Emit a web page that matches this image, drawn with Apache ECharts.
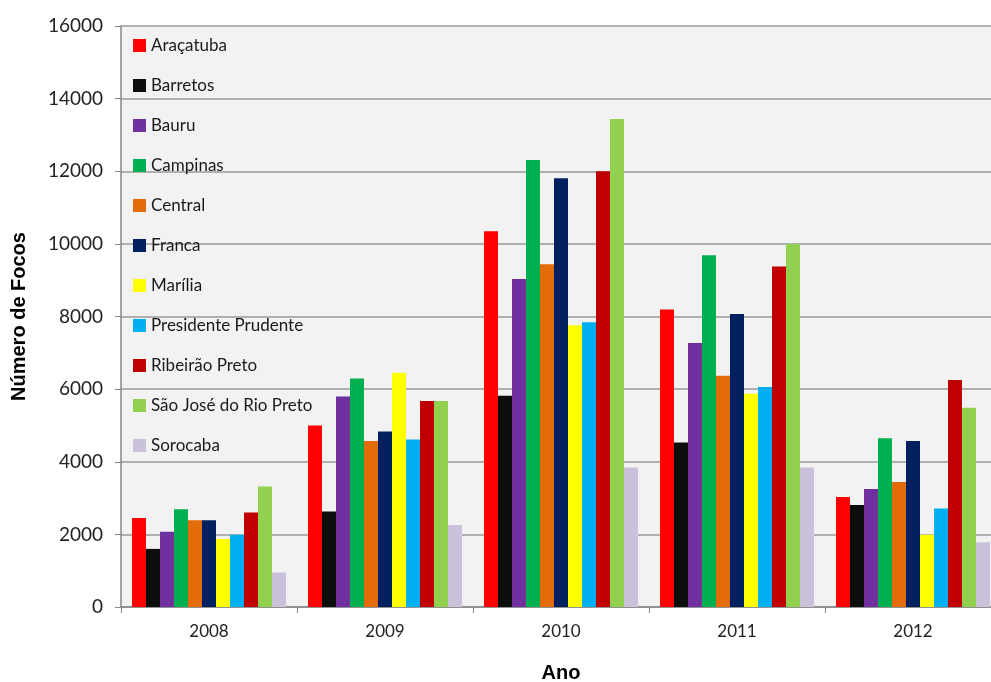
<!DOCTYPE html>
<html>
<head>
<meta charset="utf-8">
<script src="https://cdn.jsdelivr.net/npm/echarts@6/dist/echarts.min.js"></script>
<style>
  html, body { margin: 0; padding: 0; background: #fff; }
  #chart { width: 991px; height: 682px; }
</style>
</head>
<body>
<div id="chart"></div>
<script>
var myChart = echarts.init(document.getElementById('chart'));

var anos = ['2008', '2009', '2010', '2011', '2012'];

var regioes = ['Araçatuba', 'Barretos', 'Bauru', 'Campinas', 'Central', 'Franca',
    'Marília', 'Presidente Prudente', 'Ribeirão Preto', 'São José do Rio Preto', 'Sorocaba'];

// focos por regiao, um valor por ano (2008..2012)
var aracatuba = [2450, 5000, 10350, 8190, 3030];
var barretos = [1600, 2630, 5820, 4530, 2810];
var bauru = [2070, 5800, 9030, 7270, 3250];
var campinas = [2690, 6290, 12310, 9690, 4650];
var central = [2390, 4570, 9440, 6370, 3440];
var franca = [2390, 4830, 11810, 8070, 4570];
var marilia = [1870, 6450, 7760, 5870, 1990];
var presPrudente = [1990, 4610, 7840, 6060, 2710];
var ribeiraoPreto = [2600, 5670, 12000, 9380, 6250];
var sjRioPreto = [3320, 5670, 13440, 10000, 5490];
var sorocaba = [950, 2260, 3840, 3840, 1780];

var valores = [aracatuba, barretos, bauru, campinas, central, franca,
    marilia, presPrudente, ribeiraoPreto, sjRioPreto, sorocaba];

var cores = ['#ff0000', '#0d0d0d', '#7030a0', '#00b050', '#e36c09', '#002060',
    '#ffff00', '#00b0f0', '#c00000', '#92d050', '#ccc1da'];

var yTicks = [0, 2000, 4000, 6000, 8000, 10000, 12000, 14000, 16000];

var series = [];
for (var i = 0; i < regioes.length; i++) {
    series.push({
        name: regioes[i],
        type: 'bar',
        data: valores[i],
        barGap: 0,
        barCategoryGap: '12.5%',
        itemStyle: { color: cores[i] }
    });
}

var option = {
    backgroundColor: '#ffffff',
    animation: false,
    textStyle: { fontFamily: 'Lato' },
    grid: {
        left: 121,
        top: 26,
        bottom: 75,
        right: -10,
        outerBoundsMode: 'none',
        show: true,
        backgroundColor: '#f2f2f2',
        borderWidth: 0
    },
    legend: {
        orient: 'vertical',
        left: 128,
        top: 32,
        itemWidth: 13,
        itemHeight: 13,
        itemGap: 23,
        icon: 'rect',
        data: regioes,
        textStyle: { fontSize: 17, color: '#1a1a1a', fontFamily: 'Lato' }
    },
    xAxis: {
        type: 'category',
        data: anos,
        name: 'Ano',
        nameLocation: 'middle',
        nameGap: 56,
        nameTextStyle: { fontSize: 20, fontWeight: 'bold', color: '#000', fontFamily: 'Liberation Sans' },
        axisLine: { lineStyle: { color: '#888', width: 1.5 } },
        axisTick: { show: true, length: 6, lineStyle: { color: '#888' } },
        axisLabel: { fontSize: 17, color: '#222', margin: 16 }
    },
    yAxis: {
        type: 'value',
        min: yTicks[0],
        max: yTicks[yTicks.length - 1],
        interval: 2000,
        name: 'Número de Focos',
        nameLocation: 'middle',
        nameGap: 92,
        nameTextStyle: { fontSize: 20, fontWeight: 'bold', color: '#000', fontFamily: 'Liberation Sans' },
        axisLine: { show: true, lineStyle: { color: '#888', width: 1.5 } },
        axisTick: { show: true, length: 6, inside: false, lineStyle: { color: '#888' } },
        axisLabel: {
            fontSize: 19, color: '#222', margin: 18,
            formatter: function (v) { return String(v); }
        },
        splitLine: { show: true, lineStyle: { color: '#9a9a9a', width: 1.5 } }
    },
    series: series
};

myChart.setOption(option);
</script>
</body>
</html>
